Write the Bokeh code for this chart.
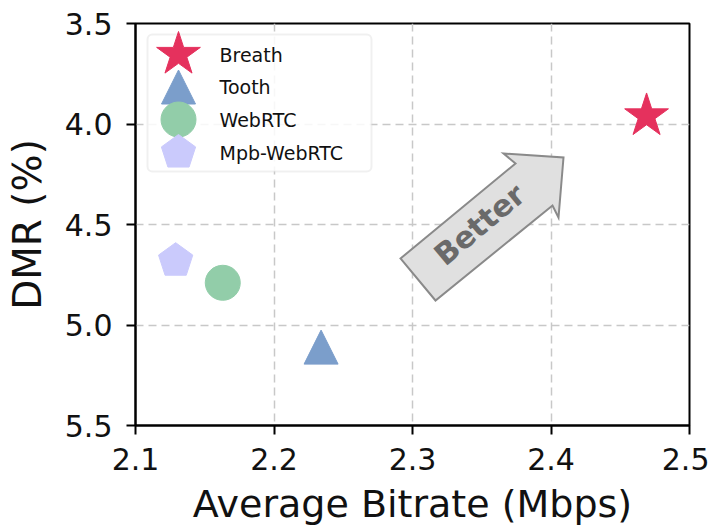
import math
from bokeh.plotting import figure
from bokeh.models import Range1d, BoxAnnotation, FixedTicker
from bokeh.core.properties import value
from bokeh.embed import file_html
from bokeh.resources import INLINE

# ---------------- data ----------------
methods = ["Breath", "Tooth", "WebRTC", "Mpb-WebRTC"]
bitrate = [2.469, 2.234, 2.163, 2.129]      # Average Bitrate (Mbps)
dmr = [3.96, 5.11, 4.79, 4.68]              # DMR (%)
marker_kind = ["star", "triangle", "circle", "pentagon"]
colors = ["#E5315D", "#7B9ECB", "#92CDA9", "#CACAFC"]

x_ticks = [2.1, 2.2, 2.3, 2.4, 2.5]
x_tick_labels = ["2.1", "2.2", "2.3", "2.4", "2.5"]
y_ticks = [3.5, 4.0, 4.5, 5.0, 5.5]
y_tick_labels = ["3.5", "4.0", "4.5", "5.0", "5.5"]

x_label = "Average Bitrate (Mbps)"
y_label = "DMR (%)"
note_text = "Better"

# ---------------- layout ----------------
FONT = "DejaVu Sans"
X0, X1 = 2.1, 2.5
YT, YB = 3.5, 5.5
FW, FH = 554, 402
BL, BT, BR, BB = 135, 23, 20, 98
FX0 = BL      # frame left on page
FY0 = BT      # frame top on page

SX = (X1 - X0) / FW      # data per px (x)
SY = (YB - YT) / FH      # data per px (y, downwards)


def px2data(px, py):
    return X0 + (px - FX0) * SX, YT + (py - FY0) * SY


def shape_offsets(kind, r):
    """Return (dx_px, dy_px) list (screen, y down) for a marker outline."""
    pts = []
    if kind == "star":
        inner = 0.381966
        for k in range(10):
            ang = math.pi / 2 + k * math.pi / 5
            rr = r if k % 2 == 0 else r * inner
            pts.append((rr * math.cos(ang), -rr * math.sin(ang)))
    elif kind == "triangle":
        pts = [(0, -r), (-r, r), (r, r)]
    elif kind == "pentagon":
        for k in range(5):
            ang = math.pi / 2 + k * 2 * math.pi / 5
            pts.append((r * math.cos(ang), -r * math.sin(ang)))
    return pts


SHAPE_R = {"star": 23, "triangle": 17, "pentagon": 18}
CIRCLE_SIZE = 35


def draw_marker(p, kind, x, y, color):
    if kind == "circle":
        p.scatter([x], [y], marker="circle", size=CIRCLE_SIZE,
                  fill_color=color, line_color=color, line_width=1)
    else:
        offs = shape_offsets(kind, SHAPE_R[kind])
        xs = [x + dx * SX for dx, dy in offs]
        ys = [y + dy * SY for dx, dy in offs]
        p.patch(xs, ys, fill_color=color, line_color=color, line_width=1,
                line_join="round")


p = figure(width=BL + FW + BR, height=BT + FH + BB,
           frame_width=FW, frame_height=FH,
           x_range=Range1d(X0, X1), y_range=Range1d(YB, YT),
           output_backend="svg", toolbar_location=None,
           min_border_left=BL, min_border_right=BR,
           min_border_top=BT, min_border_bottom=BB)

p.background_fill_color = "white"
p.border_fill_color = "white"
p.outline_line_color = "black"
p.outline_line_width = 2

# axes
for ax, ticks, labels, lab in ((p.xaxis[0], x_ticks, x_tick_labels, x_label),
                               (p.yaxis[0], y_ticks, y_tick_labels, y_label)):
    ax.ticker = FixedTicker(ticks=ticks)
    ax.major_label_overrides = {t: l for t, l in zip(ticks, labels)}
    ax.axis_label = lab
    ax.axis_label_text_font = FONT
    ax.axis_label_text_font_style = "normal"
    ax.axis_label_text_color = "#111111"
    ax.major_label_text_font = FONT
    ax.major_label_text_font_size = "30px"
    ax.major_label_text_color = "#111111"
    ax.axis_line_color = "black"
    ax.axis_line_width = 2
    ax.major_tick_line_color = "black"
    ax.major_tick_line_width = 2
    ax.major_tick_out = 9
    ax.major_tick_in = 0
    ax.minor_tick_line_color = None
p.xaxis[0].axis_label_text_font_size = "38px"
p.yaxis[0].axis_label_text_font_size = "39px"
p.xaxis[0].major_label_standoff = 13
p.xaxis[0].axis_label_standoff = 9
p.yaxis[0].major_label_standoff = 14
p.yaxis[0].axis_label_standoff = 12

# grid
for g in (p.xgrid[0], p.ygrid[0]):
    g.grid_line_color = "#c8c8c8"
    g.grid_line_width = 1.5
    g.grid_line_dash = "8 5"
p.xgrid[0].ticker = FixedTicker(ticks=x_ticks)
p.ygrid[0].ticker = FixedTicker(ticks=y_ticks)

# "Better" arrow annotation (page pixel geometry)
arrow_px = [(400, 258), (515, 163), (503, 153), (563, 157),
            (558, 217), (552, 205), (435, 300)]
ax_pts = [px2data(a, b) for a, b in arrow_px]
p.patch([a for a, b in ax_pts], [b for a, b in ax_pts],
        fill_color="#e0e0e0", line_color="#8a8a8a", line_width=2,
        line_join="miter")
tx, ty = px2data(479, 224)
p.text([tx], [ty], text=[note_text], angle=math.radians(40),
       text_font=value(FONT), text_font_style="bold",
       text_font_size="30px", text_color="#6a6a6a",
       text_align="center", text_baseline="middle")

# data points
for kind, x, y, c in zip(marker_kind, bitrate, dmr, colors):
    draw_marker(p, kind, x, y, c)

# manual legend
lx0, ly0 = px2data(147, 34)
lx1, ly1 = px2data(371, 171)
box = BoxAnnotation(left=lx0, right=lx1, top=ly0, bottom=ly1,
                    fill_color="white", fill_alpha=0.85,
                    line_color="#cccccc", line_width=2, border_radius=5,
                    level="underlay")
p.add_layout(box)
row_y = [54, 86.5, 119, 152]
for kind, name, c, ry in zip(marker_kind, methods, colors, row_y):
    mx, my = px2data(178, ry)
    draw_marker(p, kind, mx, my, c)
    tx, ty = px2data(219, ry)
    p.text([tx], [ty], text=[name], text_font=value(FONT),
           text_font_size="19px", text_color="#111111",
           text_align="left", text_baseline="middle")

open("out.html", "w").write(file_html(p, INLINE))
